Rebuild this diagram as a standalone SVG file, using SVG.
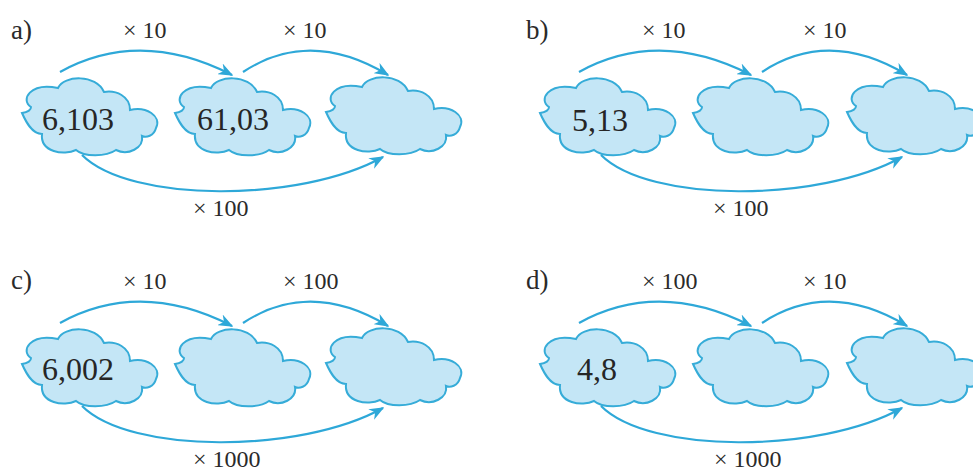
<svg xmlns="http://www.w3.org/2000/svg" xmlns:xlink="http://www.w3.org/1999/xlink" width="973" height="471" viewBox="0 0 973 471">
<defs>
<style>
.cloud{fill:#c4e6f6;stroke:#36acd8;stroke-width:2}
.arr{fill:none;stroke:#2ea8d8;stroke-width:2.2;marker-end:url(#ah)}
.lbl{font-family:"Liberation Serif","Times New Roman",serif;font-size:24px;fill:#2a2a2a}
.num{font-family:"Liberation Serif","Times New Roman",serif;font-size:32px;fill:#262626}
.tag{font-family:"Liberation Serif","Times New Roman",serif;font-size:27px;fill:#2a2a2a}
</style>
<marker id="ah" viewBox="0 0 10 8" markerWidth="15" markerHeight="12" refX="9" refY="4" orient="auto" markerUnits="userSpaceOnUse">
<path d="M0,0 L10,4 L0,8 L3,4 Z" fill="#2ea8d8"/>
</marker>
<path id="cl" d="M36,10 C42,-3 74,-4 82,14 C94,12 108,18 108,32 C124,28 140,38 134,50 C132,58 124,60 120,58 C122,70 106,78 94,72 C84,79 62,79 54,72 C42,78 18,74 20,56 C10,56 4,44 0,35 C6,34 9,32 9,29 C-2,22 8,4 36,10 Z"/>
</defs>
<rect width="973" height="471" fill="#ffffff"/>

<g id="panel-a">
<text class="tag" x="11" y="39">a)</text>
<g id="a-connectors">
<path class="arr" d="M60,72 Q140,28 232,75"/>
<path class="arr" d="M243,72 Q310,28 388,75"/>
<path class="arr" d="M82,155 C130,203 300,203 383,157"/>
<text class="lbl" x="123" y="38">× 10</text>
<text class="lbl" x="283" y="38">× 10</text>
<text class="lbl" x="193" y="216">× 100</text>
</g>
<g id="a-n1" transform="translate(22,78)"><use xlink:href="#cl" class="cloud"/><text class="num" x="20" y="52">6,103</text></g>
<g id="a-n2" transform="translate(175,78)"><use xlink:href="#cl" class="cloud"/><text class="num" x="22" y="52">61,03</text></g>
<g id="a-n3" transform="translate(326,77)"><use xlink:href="#cl" class="cloud"/></g>
</g>

<g id="panel-b" transform="translate(519,0)">
<text class="tag" x="7" y="39">b)</text>
<g id="b-connectors">
<path class="arr" d="M60,72 Q140,28 232,75"/>
<path class="arr" d="M243,72 Q310,28 388,75"/>
<path class="arr" d="M82,155 C130,203 300,203 383,157"/>
<text class="lbl" x="123" y="38">× 10</text>
<text class="lbl" x="284" y="38">× 10</text>
<text class="lbl" x="194" y="216">× 100</text>
</g>
<g id="b-n1" transform="translate(21,78)"><use xlink:href="#cl" class="cloud"/><text class="num" x="32" y="53">5,13</text></g>
<g id="b-n2" transform="translate(174,78)"><use xlink:href="#cl" class="cloud"/></g>
<g id="b-n3" transform="translate(328,77)"><use xlink:href="#cl" class="cloud"/></g>
</g>

<g id="panel-c" transform="translate(0,251)">
<text class="tag" x="11" y="38">c)</text>
<g id="c-connectors">
<path class="arr" d="M60,72 Q140,28 232,75"/>
<path class="arr" d="M243,72 Q310,28 388,75"/>
<path class="arr" d="M82,155 C130,203 300,203 383,157"/>
<text class="lbl" x="123" y="38">× 10</text>
<text class="lbl" x="283" y="38">× 100</text>
<text class="lbl" x="193" y="216">× 1000</text>
</g>
<g id="c-n1" transform="translate(22,78)"><use xlink:href="#cl" class="cloud"/><text class="num" x="20" y="51">6,002</text></g>
<g id="c-n2" transform="translate(175,78)"><use xlink:href="#cl" class="cloud"/></g>
<g id="c-n3" transform="translate(326,77)"><use xlink:href="#cl" class="cloud"/></g>
</g>

<g id="panel-d" transform="translate(519,251)">
<text class="tag" x="7" y="38">d)</text>
<g id="d-connectors">
<path class="arr" d="M60,72 Q140,28 232,75"/>
<path class="arr" d="M243,72 Q310,28 388,75"/>
<path class="arr" d="M82,155 C130,203 300,203 383,157"/>
<text class="lbl" x="123" y="38">× 100</text>
<text class="lbl" x="284" y="38">× 10</text>
<text class="lbl" x="195" y="216">× 1000</text>
</g>
<g id="d-n1" transform="translate(21,78)"><use xlink:href="#cl" class="cloud"/><text class="num" x="37" y="51">4,8</text></g>
<g id="d-n2" transform="translate(174,78)"><use xlink:href="#cl" class="cloud"/></g>
<g id="d-n3" transform="translate(328,77)"><use xlink:href="#cl" class="cloud"/></g>
</g>
</svg>
